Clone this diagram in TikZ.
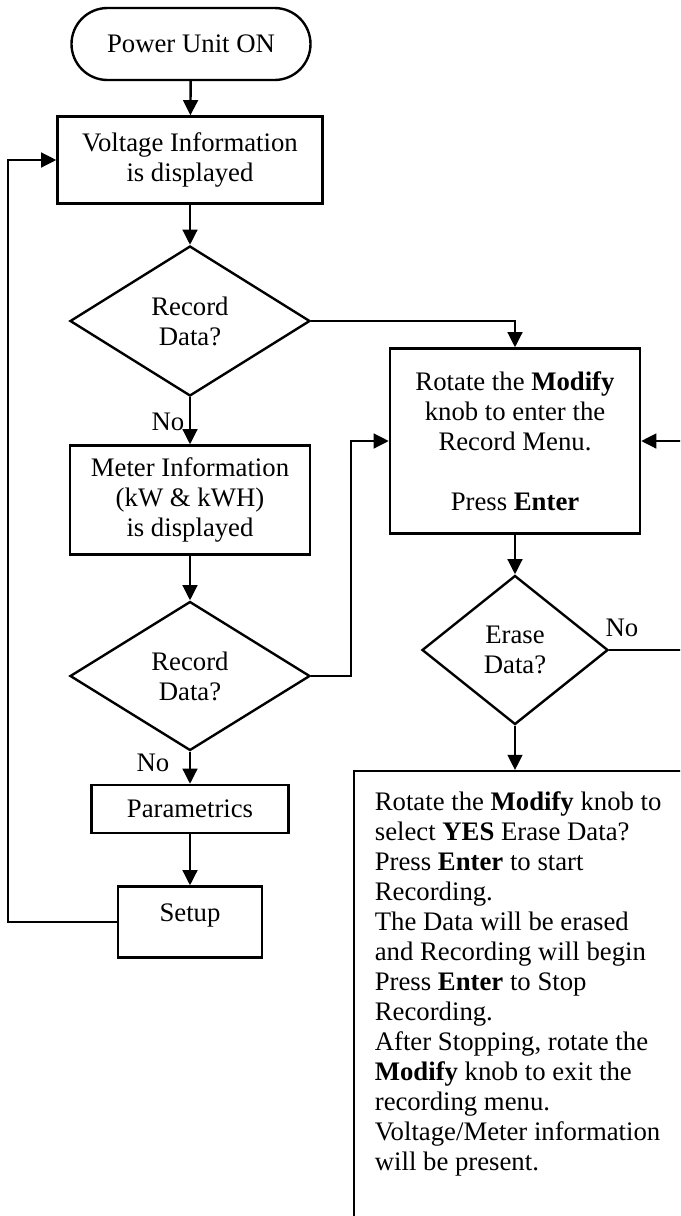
\documentclass[tikz,border=0pt]{standalone}
\usepackage{fontspec}
\setmainfont{Liberation Serif}
\usetikzlibrary{arrows.meta,shapes.geometric,shapes.misc}
\def\pxu{0.46pt}

\begin{document}
\begin{tikzpicture}[x=0.46pt,y=-0.46pt,
	font=\fontsize{12.3pt}{13.8pt}\selectfont, line width=1.1pt,
	flow/.style={-{Triangle[length=7pt,width=6.8pt]}},
	box/.style={draw, rectangle, align=center, inner sep=0pt},
	term/.style={draw, rounded rectangle, align=center, inner sep=0pt},
	dec/.style={draw, diamond, align=center, inner sep=0pt}]
	\clip (0,0) rectangle (680,1216);
	% left column
	\node[term, minimum width=239*\pxu, minimum height=72*\pxu] (start) at (191,44) {Power Unit ON};
	\node[box, minimum width=265*\pxu, minimum height=87*\pxu] (volt) at (190,160) {Voltage Information\\ is displayed};
	\node[dec, minimum width=240*\pxu, minimum height=150*\pxu] (rec1) at (190,321) {Record\\ Data?};
	\node[box, minimum width=240*\pxu, minimum height=109*\pxu] (meter) at (190,500) {Meter Information\\ (kW \& kWH)\\ is displayed};
	\node[dec, minimum width=240*\pxu, minimum height=149*\pxu] (rec2) at (190,676) {Record\\ Data?};
	\node[box, minimum width=197*\pxu, minimum height=48*\pxu] (para) at (190,809) {Parametrics};
	\node[box, minimum width=144*\pxu, minimum height=71*\pxu, text depth=9pt] (setup) at (190,922) {Setup};
	\node (no1) at (168,422) {No};
	\node (no2) at (153,763) {No};
	% right column
	\node[box, minimum width=250*\pxu, minimum height=185*\pxu] (menu) at (515,441) {Rotate the \textbf{Modify}\\ knob to enter the\\ Record Menu.\\[13.8pt] Press \textbf{Enter}};
	\node[dec, minimum width=186*\pxu, minimum height=149*\pxu] (erase) at (515,650) {Erase\\ Data?};
	\node (no3) at (622,628) {No};
	\node[draw, anchor=north west, inner sep=9.5pt] (steps) at (353,770) {\parbox[t][300pt][t]{165pt}{\raggedright
		Rotate the \textbf{Modify} knob to\\ select \textbf{YES} Erase Data?\\ Press \textbf{Enter} to start\\ Recording.\\
		The Data will be erased\\ and Recording will begin\\ Press \textbf{Enter} to Stop\\ Recording.\\
		After Stopping, rotate the\\ \textbf{Modify} knob to exit the\\ recording menu.\\ Voltage/Meter information\\ will be present.}};
	\draw[flow] (start) -- (volt);
	\draw[flow] (volt) -- (rec1);
	\draw[flow] (rec1.east) -| (menu.north);
	\draw[flow] (rec1) -- (meter);
	\draw[flow] (meter) -- (rec2);
	\draw[flow] (rec2.east) -- ++(40,0) |- (menu.west);
	\draw[flow] (rec2) -- (para);
	\draw[flow] (para) -- (setup);
	\draw[flow] (setup.west) -- ++(-109,0) |- (volt.west);
	\draw[flow] (menu) -- (erase);
	\draw[flow] (erase.east) -- ++(74,0) |- (menu.east);
	\draw[flow] (erase.south) -- (erase.south |- steps.north);
\end{tikzpicture}
\end{document}
